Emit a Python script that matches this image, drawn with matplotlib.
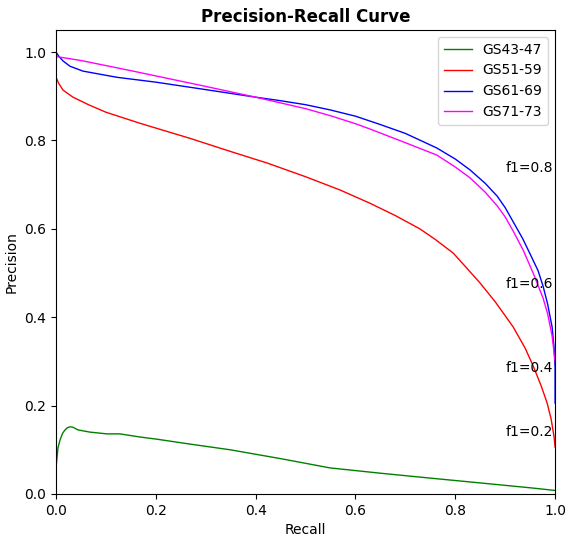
import numpy as np
import matplotlib
matplotlib.use("Agg")
from matplotlib import pyplot as plt

# recall / precision
recall_4347 = [0.0, 0.0, 0.004, 0.008, 0.013, 0.018, 0.023, 0.028, 0.034, 0.044, 0.068, 0.102,
               0.128, 0.168, 0.202, 0.268, 0.349, 0.45, 0.549, 0.65, 0.749, 0.85, 0.95, 1.0]
prec_4347 = [0.0, 0.06, 0.105, 0.122, 0.137, 0.145, 0.150, 0.152, 0.151, 0.145, 0.140, 0.136,
             0.136, 0.129, 0.124, 0.113, 0.100, 0.080, 0.059, 0.047, 0.036, 0.025, 0.014, 0.008]

recall_5159 = [0.0, 0.005, 0.014, 0.034, 0.065, 0.1, 0.168, 0.268, 0.35, 0.423, 0.5, 0.569,
               0.629, 0.68, 0.729, 0.76, 0.796, 0.82, 0.85, 0.88, 0.916, 0.94, 0.956, 0.972,
               0.984, 0.992, 0.998, 1.0]
prec_5159 = [0.943, 0.930, 0.914, 0.898, 0.881, 0.864, 0.839, 0.805, 0.775, 0.749, 0.718, 0.688,
             0.658, 0.630, 0.600, 0.576, 0.545, 0.515, 0.477, 0.435, 0.378, 0.330, 0.290, 0.245,
             0.206, 0.170, 0.129, 0.106]

recall_6169 = [0.0, 0.006, 0.014, 0.028, 0.054, 0.122, 0.2, 0.289, 0.40, 0.45, 0.50, 0.55,
               0.60, 0.65, 0.70, 0.763, 0.80, 0.83, 0.86, 0.884, 0.90, 0.916, 0.935, 0.950,
               0.966, 0.976, 0.985, 0.994, 0.998, 1.0, 1.0]
prec_6169 = [1.0, 0.99, 0.980, 0.968, 0.957, 0.943, 0.932, 0.917, 0.898, 0.890, 0.881, 0.869,
             0.855, 0.836, 0.816, 0.783, 0.758, 0.733, 0.703, 0.674, 0.648, 0.616, 0.578, 0.543,
             0.505, 0.470, 0.430, 0.378, 0.33, 0.287, 0.206]

recall_7173 = [0.0, 0.05, 0.15, 0.289, 0.40, 0.45, 0.50, 0.55, 0.60, 0.629, 0.70, 0.763,
               0.80, 0.83, 0.86, 0.884, 0.90, 0.916, 0.936, 0.956, 0.976, 0.985, 0.994, 1.0]
prec_7173 = [0.99, 0.981, 0.958, 0.925, 0.898, 0.885, 0.872, 0.856, 0.838, 0.826, 0.795, 0.767,
             0.740, 0.715, 0.683, 0.652, 0.627, 0.595, 0.552, 0.500, 0.443, 0.408, 0.358, 0.30]

labels = ["GS43-47", "GS51-59", "GS61-69", "GS71-73"]
f_scores = [0.2, 0.4, 0.6, 0.8]

fig = plt.figure(figsize=(5.67, 5.36), dpi=100)
ax = fig.add_axes([0.0988, 0.0784, 0.8802, 0.8656])

ax.plot(recall_4347, prec_4347, color='green', lw=1, label=labels[0])
ax.plot(recall_5159, prec_5159, color='red', lw=1, label=labels[1])
ax.plot(recall_6169, prec_6169, color='blue', lw=1, label=labels[2])
ax.plot(recall_7173, prec_7173, color='magenta', lw=1, label=labels[3])

# f1 labels (positions from the iso-f1 curves, curves themselves not drawn)
x = np.linspace(0.01, 1)
for f_score in f_scores:
    y = f_score * x / (2 * x - f_score)
    ax.annotate('f1={0:0.1f}'.format(f_score), xy=(0.9, y[45] + 0.02))

ax.set_xlim(0.0, 1.0)
ax.set_ylim(0.0, 1.05)
ax.set_xlabel("Recall")
ax.set_ylabel("Precision")
ax.set_title("Precision-Recall Curve", fontweight='bold')
ax.legend(loc='upper right')

fig.savefig("out.png", dpi=100)
